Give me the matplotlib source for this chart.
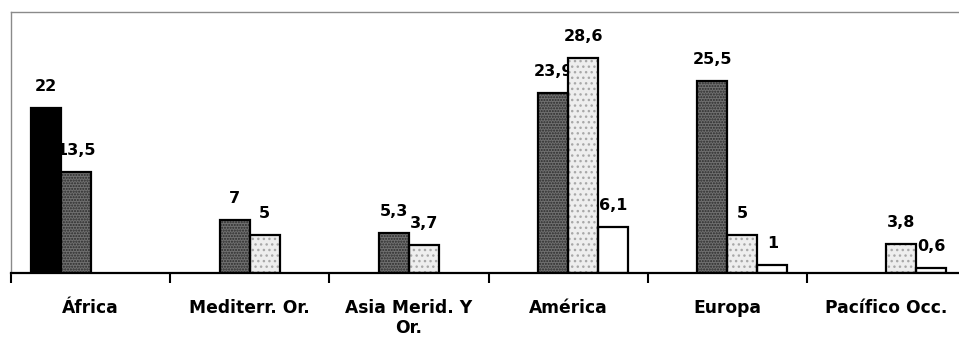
import numpy as np
import matplotlib
matplotlib.use("Agg")
import matplotlib.pyplot as plt

# Regions (WHO-style) and four series per region
regions = ["África", "Mediterr. Or.", "Asia Merid. Y\nOr.", "América", "Europa", "Pacífico Occ."]
serie_negra = [22, np.nan, np.nan, np.nan, np.nan, np.nan]
serie_oscura = [13.5, 7, 5.3, 23.9, 25.5, np.nan]
serie_clara = [np.nan, 5, 3.7, 28.6, 5, 3.8]
serie_blanca = [np.nan, np.nan, np.nan, 6.1, 1, 0.6]

series = [serie_negra, serie_oscura, serie_clara, serie_blanca]
# (face, hatch, hatch colour)
estilos = [
    ("#000000", None, None),
    ("#707070", "......", "#2a2a2a"),
    ("#eeeeee", "...", "#a8a8a8"),
    ("#ffffff", None, None),
]

W, H, DPI = 959, 342, 100
PT = 72 / DPI  # points per pixel
fig = plt.figure(figsize=(W / DPI, H / DPI), dpi=DPI)
ax = fig.add_axes([11 / W, 69 / H, 955 / W, 261 / H])

FONT = "DejaVu Sans"
ancho = 30 / 159
x = np.arange(len(regions))

for k, (vals, (fc, hatch, hc)) in enumerate(zip(series, estilos)):
    pos = x + (k - 1.5) * ancho
    v = np.array(vals, dtype=float)
    ok = ~np.isnan(v)
    if hatch:
        ax.bar(pos[ok], v[ok], width=ancho, color=fc, hatch=hatch,
               edgecolor=hc, linewidth=0, zorder=3)
        ax.bar(pos[ok], v[ok], width=ancho, fill=False,
               edgecolor="black", linewidth=1.6, zorder=3.5)
    else:
        ax.bar(pos[ok], v[ok], width=ancho, color=fc,
               edgecolor="black", linewidth=1.6, zorder=3)
    # value labels sit beneath the bars, so neighbouring bars may hide part of them
    for xi, vi in zip(pos[ok], v[ok]):
        ax.annotate(f"{vi:g}".replace(".", ","), xy=(xi, vi),
                    xytext=(0, 17 * PT), textcoords="offset points",
                    ha="center", va="baseline", fontsize=11.5,
                    fontweight="bold", family=FONT, zorder=1)

# region names below the axis, one line at a time
for xi, nombre in zip(x, regions):
    for j, linea in enumerate(nombre.split("\n")):
        ax.annotate(linea, xy=(xi, 0), xycoords=("data", "axes fraction"),
                    xytext=(0, -(40 + 20 * j) * PT), textcoords="offset points",
                    ha="center", va="baseline", fontsize=12.3,
                    fontweight="bold", family=FONT, annotation_clip=False)

ax.set_xlim(-0.5, len(regions) - 0.5)
ax.set_ylim(0, 34.75)
ax.set_yticks([])
ax.set_xticks([])
ax.set_xticks(np.arange(-0.5, len(regions)), minor=True)
ax.tick_params(axis="x", which="minor", length=10 * PT, width=1.5,
               direction="out", color="black")

for s in ("top", "left"):
    ax.spines[s].set_color("#8a8a8a")
    ax.spines[s].set_linewidth(1.0)
    ax.spines[s].set_linestyle((0, (2, 1)))
ax.spines["right"].set_visible(False)
ax.spines["bottom"].set_color("black")
ax.spines["bottom"].set_linewidth(1.6)
ax.spines["bottom"].set_zorder(5)

fig.savefig("out.png", dpi=DPI)
